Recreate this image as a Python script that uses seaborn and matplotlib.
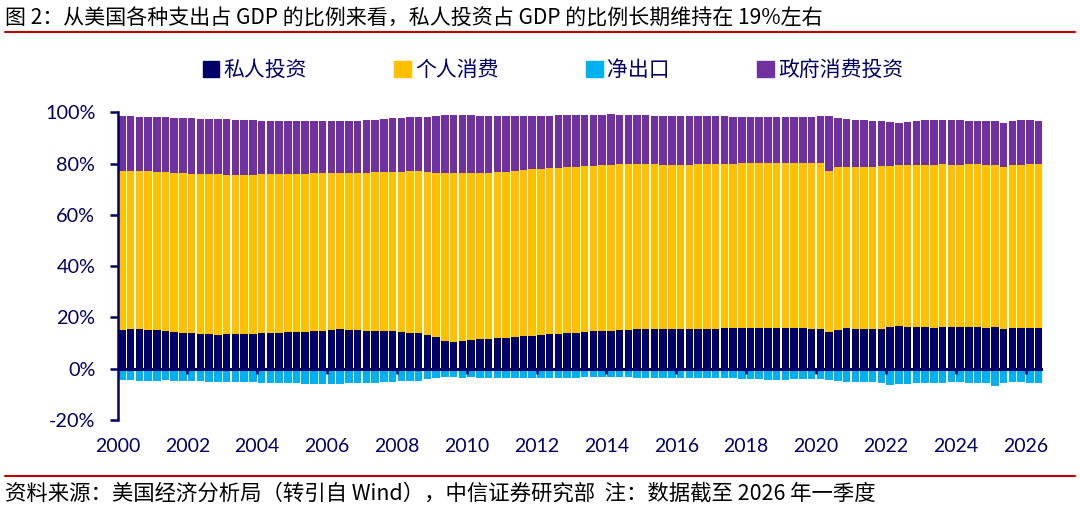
import numpy as np
import pandas as pd
import matplotlib
matplotlib.use("Agg")
import matplotlib.pyplot as plt
from matplotlib.lines import Line2D
from matplotlib.patches import Patch
import seaborn as sns

# ---------------- data (share of GDP, %) ----------------
years = list(range(2000, 2027))
quarters = [f"{y}Q{q}" for y in years for q in (1, 2, 3, 4)][:106]

investment = [
    15.2, 15.5, 15.4, 15.1, 15.0, 14.6, 14.3, 14.0, 13.9, 13.7, 13.4, 13.3,
    13.6, 13.5, 13.4, 13.6, 13.9, 14.0, 14.1, 14.2, 14.4, 14.5, 14.6, 14.8,
    15.1, 15.3, 15.2, 15.0, 14.9, 14.8, 14.7, 14.6, 14.2, 14.0, 13.8, 13.3,
    12.2, 11.0, 10.5, 10.8, 11.2, 11.5, 11.6, 11.8, 12.1, 12.4, 12.6, 12.9,
    13.3, 13.5, 13.6, 13.8, 14.1, 14.3, 14.6, 14.8, 14.9, 15.1, 15.2, 15.3,
    15.4, 15.5, 15.5, 15.4, 15.4, 15.4, 15.5, 15.6, 15.6, 15.7, 15.8, 15.8,
    15.9, 16.0, 16.0, 15.8, 15.8, 15.8, 15.7, 15.6, 15.6, 14.2, 15.2, 15.8,
    15.6, 15.4, 15.3, 15.5, 16.4, 16.5, 16.3, 16.2, 16.1, 16.0, 16.1, 16.1,
    16.1, 16.2, 16.1, 16.0, 16.2, 15.6, 15.8, 15.8, 15.9, 16.0,
]
consumption = [
    61.8, 61.7, 61.7, 61.9, 61.8, 62.0, 62.2, 62.3, 62.2, 62.3, 62.5, 62.5,
    62.0, 62.0, 62.0, 62.0, 61.9, 61.9, 61.8, 61.8, 61.6, 61.6, 61.6, 61.4,
    61.2, 61.0, 61.2, 61.4, 61.6, 61.8, 62.0, 62.2, 62.7, 63.0, 63.2, 63.4,
    64.2, 65.2, 65.7, 65.4, 65.0, 64.8, 64.8, 64.8, 64.8, 64.8, 64.9, 64.8,
    64.6, 64.7, 64.8, 64.8, 64.7, 64.7, 64.6, 64.6, 64.7, 64.7, 64.7, 64.7,
    64.5, 64.2, 64.1, 64.2, 64.2, 64.2, 64.2, 64.2, 64.3, 64.3, 64.2, 64.3,
    64.3, 64.3, 64.3, 64.5, 64.4, 64.4, 64.6, 64.8, 64.7, 63.1, 63.4, 62.8,
    63.0, 63.3, 63.5, 63.4, 62.7, 62.8, 63.1, 63.3, 63.5, 63.6, 63.6, 63.5,
    63.5, 63.5, 63.6, 63.6, 63.1, 62.9, 63.5, 63.8, 63.9, 63.9,
]
government = [
    21.5, 21.2, 21.2, 21.2, 21.3, 21.4, 21.3, 21.4, 21.5, 21.5, 21.5, 21.5,
    21.6, 21.5, 21.5, 21.3, 21.0, 20.9, 20.8, 20.7, 20.6, 20.4, 20.3, 20.3,
    20.2, 20.2, 20.2, 20.3, 20.4, 20.5, 20.7, 20.8, 21.0, 21.1, 21.2, 21.6,
    22.2, 22.8, 22.9, 22.7, 22.6, 22.4, 22.2, 22.0, 21.7, 21.3, 21.1, 20.9,
    20.7, 20.5, 20.4, 20.3, 20.2, 20.1, 19.9, 19.7, 19.6, 19.3, 19.1, 18.9,
    18.9, 19.0, 19.1, 19.0, 19.1, 19.1, 18.9, 18.8, 18.6, 18.4, 18.3, 18.2,
    18.0, 17.8, 17.8, 17.7, 17.9, 17.9, 17.9, 17.9, 18.1, 21.1, 19.0, 18.8,
    18.5, 18.3, 18.0, 17.7, 17.2, 16.7, 16.8, 17.1, 17.4, 17.5, 17.4, 17.4,
    17.3, 17.1, 17.1, 17.1, 17.3, 17.3, 17.4, 17.3, 17.1, 16.9,
]
net_exports = [
    -4.3, -4.5, -4.6, -4.7, -4.6, -4.5, -4.6, -4.7, -4.8, -4.9, -5.0, -5.1,
    -5.2, -5.3, -5.3, -5.3, -5.5, -5.6, -5.6, -5.7, -5.7, -5.8, -5.8, -5.8,
    -5.8, -5.8, -5.7, -5.6, -5.5, -5.4, -5.2, -5.0, -4.9, -4.8, -4.6, -4.2,
    -3.6, -3.3, -3.4, -3.5, -3.4, -3.6, -3.6, -3.5, -3.7, -3.8, -3.7, -3.7,
    -3.8, -3.8, -3.7, -3.6, -3.5, -3.4, -3.4, -3.3, -3.3, -3.4, -3.4, -3.5,
    -3.5, -3.6, -3.6, -3.7, -3.7, -3.6, -3.6, -3.7, -3.8, -3.8, -3.8, -3.9,
    -4.0, -4.1, -4.3, -4.3, -4.3, -4.2, -4.2, -4.0, -3.9, -4.3, -4.8, -5.0,
    -5.0, -5.1, -5.3, -5.4, -6.2, -6.1, -5.8, -5.5, -5.4, -5.4, -5.4, -5.3,
    -5.3, -5.4, -5.4, -5.5, -6.8, -5.5, -5.3, -5.3, -5.4, -5.5,
]

series_names = ["私人投资", "个人消费", "净出口", "政府消费投资"]
year_labels = [str(y) for y in range(2000, 2027, 2)]
y_ticks = [-20, 0, 20, 40, 60, 80, 100]

title = "图 2：从美国各种支出占 GDP 的比例来看，私人投资占 GDP 的比例长期维持在 19%左右"
footer = "资料来源：美国经济分析局（转引自 Wind），中信证券研究部  注：数据截至 2026 年一季度"

# ---------------- style ----------------
NAVY = "#000066"
YELLOW = "#FFC000"
CYAN = "#00B0F0"
PURPLE = "#7030A0"
RED = "#C00000"

sns.set_theme(style="white")
plt.rcParams["font.family"] = ["Lato", "Noto Sans CJK SC", "DejaVu Sans"]
CJK = ["Noto Sans CJK SC", "DejaVu Sans"]

df = pd.DataFrame({
    "quarter": quarters,
    "inv": investment,
    "cons": consumption,
    "gov": government,
    "nx": net_exports,
})
df["lvl1"] = df["inv"]
df["lvl2"] = df["inv"] + df["cons"]
df["lvl3"] = df["inv"] + df["cons"] + df["gov"]

W, H = 1080, 515
fig = plt.figure(figsize=(W / 100, H / 100), dpi=100)
ax = fig.add_axes([117.5 / W, (H - 420) / H, (1043 - 117.5) / W, (420 - 112.3) / H])

bw = 0.86
for col, c in [("lvl3", PURPLE), ("lvl2", YELLOW), ("lvl1", NAVY), ("nx", CYAN)]:
    sns.barplot(data=df, x="quarter", y=col, color=c, width=bw, saturation=1,
                linewidth=0, ax=ax, zorder=2)

n = len(quarters)
ax.set_xlim(-0.5, n - 0.5)
ax.set_ylim(-20, 100)
ax.set_xlabel("")
ax.set_ylabel("")

tick_pos = np.arange(0, n, 8) - 0.5
ax.set_xticks(tick_pos)
ax.set_xticklabels(year_labels[:len(tick_pos)])
ax.tick_params(axis="x", length=0, pad=13, labelsize=14, labelcolor=NAVY)
ax.set_yticks(y_ticks)
ax.set_yticklabels([f"{v}%" for v in y_ticks])
ax.tick_params(axis="y", direction="out", length=6, width=1.8, color=NAVY,
               pad=10, labelsize=14.3, labelcolor=NAVY, left=True)

for s in ["top", "right", "bottom"]:
    ax.spines[s].set_visible(False)
ax.spines["left"].set_color(NAVY)
ax.spines["left"].set_linewidth(1.8)
ax.grid(False)

# zero line with small downward ticks
ax.axhline(0, color=NAVY, lw=2.2, zorder=5)
ax.vlines(tick_pos[1:], -2.0, 0, color=NAVY, lw=1.8, zorder=5)

# legend
handles = [Patch(facecolor=c, edgecolor=c) for c in [NAVY, YELLOW, CYAN, PURPLE]]
fig.legend(handles, series_names, loc="center", ncol=4,
           bbox_to_anchor=(553 / W, 1 - 70 / H), frameon=False,
           prop={"family": CJK, "size": 15}, labelcolor=NAVY,
           handlelength=0.8, handleheight=0.8, handletextpad=0.2,
           columnspacing=4.2, borderaxespad=0)

# title, rules, footer
fig.text(5 / W, 1 - 19 / H, title, ha="left", va="center", fontsize=15.1,
         family=CJK, color="#000000")
fig.add_artist(Line2D([5 / W, 1075 / W], [1 - 32 / H] * 2, color=RED, lw=1.5))
fig.add_artist(Line2D([5 / W, 1075 / W], [1 - 476 / H] * 2, color=RED, lw=1.5))
fig.text(5 / W, 1 - 494 / H, footer, ha="left", va="center", fontsize=15.4,
         family=CJK, color="#000000")

fig.savefig("out.png", dpi=100)
